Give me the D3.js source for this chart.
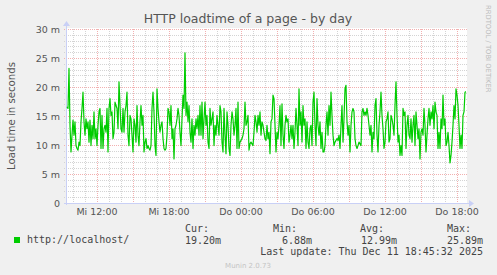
<!DOCTYPE html>
<html><head><meta charset="utf-8">
<script src="https://cdn.jsdelivr.net/npm/d3@7/dist/d3.min.js"></script>
<style>html,body{margin:0;padding:0;background:#F0F0F0;} svg{display:block}</style>
</head><body><svg id="c" width="497" height="275"></svg>
<script>
// ---------- data ----------
const chartTitle = "HTTP loadtime of a page - by day";
const yAxisTitle = "Load time in seconds";
const seriesName = "http://localhost/";
const loadValues = [
16.6,16.3,23.2,13.4,8.8,11.7,14.3,11.7,14.0,9.9,9.4,9.1,10.5,9.9,14.0,16.3,19.1,14.0,11.7,14.5,12.8,14.0,10.5,14.3,9.9,13.4,11.1,15.7,11.1,12.8,9.9,13.4,15.7,16.3,9.4,15.1,9.4,12.8,13.4,12.2,16.3,8.8,16.3,18.0,15.1,15.7,11.1,12.2,17.4,16.8,16.3,12.8,20.9,16.8,12.8,12.2,16.3,12.2,15.7,16.8,19.1,11.7,9.9,15.1,14.5,
11.7,8.8,14.5,13.4,10.5,16.8,11.7,9.9,14.0,16.8,13.4,15.1,8.8,10.5,11.1,9.4,9.9,9.4,9.1,9.9,16.3,19.1,15.7,9.9,8.2,19.7,16.3,14.0,12.2,13.4,14.0,11.1,9.4,9.1,9.4,11.7,16.3,15.7,13.4,16.8,11.1,12.8,7.6,12.8,13.4,14.5,16.3,15.1,12.2,9.9,14.5,18.6,16.3,25.9,15.1,17.4,14.0,16.8,12.2,10.5,14.5,9.4,13.4,11.7,14.5,12.8,15.1,11.7,
16.8,11.7,17.4,11.1,14.5,17.4,13.4,15.1,10.5,9.4,16.3,13.4,14.5,15.7,9.9,13.4,11.7,15.1,13.4,11.7,16.8,15.7,10.5,8.8,16.3,11.7,8.5,15.7,13.4,9.4,8.2,13.4,15.7,14.5,11.7,13.4,16.3,9.4,17.4,9.4,10.5,10.8,11.1,11.7,12.8,17.4,13.4,14.0,15.1,9.1,10.2,10.5,10.2,9.9,12.2,15.1,14.0,12.2,15.1,13.4,15.7,11.7,14.0,13.4,12.2,11.1,10.8,13.4,
11.1,12.2,8.5,14.0,14.5,18.6,18.0,13.4,8.8,12.2,11.1,13.4,16.8,9.9,17.1,11.7,9.4,13.4,15.1,14.0,14.5,10.5,11.7,13.4,11.1,13.4,9.4,12.2,16.3,13.4,9.9,19.7,13.4,15.7,10.5,16.8,13.4,14.5,9.4,14.0,10.5,9.4,12.8,13.4,9.9,17.4,19.1,13.4,9.9,18.0,13.4,11.7,14.0,9.4,12.2,8.8,8.8,9.9,13.4,15.7,11.7,16.8,13.4,19.1,15.1,11.7,9.9,10.5,
10.8,11.1,10.8,11.7,9.4,13.4,16.8,10.5,14.5,19.7,20.3,14.0,11.7,13.4,8.8,13.4,15.7,16.3,15.7,11.1,9.9,9.4,9.9,10.5,10.2,9.9,15.7,16.3,15.1,15.7,15.1,16.3,15.1,13.4,11.7,13.4,8.8,12.2,11.1,16.8,18.0,11.7,8.8,13.4,15.7,19.1,15.1,12.8,9.4,10.5,14.0,14.5,15.7,10.5,11.1,15.1,14.5,13.4,11.7,16.8,20.9,15.1,10.5,11.7,8.2,9.9,8.2,16.3,
15.1,15.7,9.4,13.4,15.1,11.7,11.1,14.5,10.5,13.4,15.1,9.9,15.7,13.4,11.1,12.8,7.6,12.2,12.8,11.7,16.3,13.4,8.8,11.7,14.5,16.3,13.4,15.7,14.5,16.8,12.8,17.4,15.7,15.1,9.4,12.2,9.4,14.5,12.8,18.6,13.4,14.5,9.9,10.5,12.2,9.9,6.9,8.2,10.5,13.4,16.8,14.5,19.7,18.6,16.8,13.4,9.4,11.7,9.4,15.1,15.7,19.1,19.2
];
const lastSample = new Date(2025, 11, 11, 18, 45);
const sampleMinutes = 5;
const spanMinutes = 2000; // 33h20m shown
const xTickLabels = ["Mi 12:00", "Mi 18:00", "Do 00:00", "Do 06:00", "Do 12:00", "Do 18:00"];
const xTickTimes = [new Date(2025,11,10,12), new Date(2025,11,10,18), new Date(2025,11,11,0),
                    new Date(2025,11,11,6), new Date(2025,11,11,12), new Date(2025,11,11,18)];
const yTicks = [0, 5, 10, 15, 20, 25, 30];
const yTickLabels = ["0", "5 m", "10 m", "15 m", "20 m", "25 m", "30 m"];
const statNames = ["Cur:", "Min:", "Avg:", "Max:"];
const statValues = ["19.20m", "6.88m", "12.99m", "25.89m"];
const lastUpdate = "Last update: Thu Dec 11 18:45:32 2025";
const footer = "Munin 2.0.73";
const watermark = "RRDTOOL / TOBI OETIKER";

// ---------- layout ----------
const svg = d3.select("#c");
const L = 66, R = 466, T = 29, B = 203;
const endT = lastSample;
const startT = new Date(endT.getTime() - spanMinutes * 60000);
const x = d3.scaleTime().domain([startT, endT]).range([L, R]);
const y = d3.scaleLinear().domain([0, 30]).range([B, T]);
const sans = "DejaVu Sans, sans-serif", mono = "DejaVu Sans Mono, monospace";
const textCol = "#555";

svg.append("rect").attr("width", 497).attr("height", 275).attr("fill", "#F0F0F0");
svg.append("rect").attr("x", L).attr("y", T - 1).attr("width", R - L + 1).attr("height", B - T + 1).attr("fill", "#fff");

// grid
const g = svg.append("g").attr("shape-rendering", "crispEdges");
const hours = d3.timeHour.range(startT, endT);
hours.forEach(h => {
  const major = h.getHours() % 3 === 0;
  const xx = Math.round(x(h)) + 0.5;
  g.append("line").attr("x1", xx).attr("x2", xx).attr("y1", T).attr("y2", B + 2)
    .attr("stroke", major ? "#f2b0b0" : "#d4d4d4").attr("stroke-dasharray", "1,1");
});
d3.range(1, 31, 1).forEach(v => {
  const major = v % 5 === 0;
  const yy = Math.round(y(v)) + 0.5;
  g.append("line").attr("x1", L - 2).attr("x2", R + 1).attr("y1", yy).attr("y2", yy)
    .attr("stroke", major ? "#f2b0b0" : "#d4d4d4").attr("stroke-dasharray", "1,1");
});

// axes lines + arrows
const axisCol = "#c9d0f6";
g.append("line").attr("x1", L - 2).attr("x2", R + 4).attr("y1", B + 0.5).attr("y2", B + 0.5).attr("stroke", axisCol);
g.append("line").attr("x1", L + 0.5).attr("x2", L + 0.5).attr("y1", B + 2).attr("y2", T - 4).attr("stroke", axisCol);
svg.append("path").attr("d", `M${R + 3},${B - 3} L${R + 8},${B + 0.5} L${R + 3},${B + 4} Z`).attr("fill", axisCol);
svg.append("path").attr("d", `M${L - 3},${T - 3} L${L + 0.5},${T - 8} L${L + 4},${T - 3} Z`).attr("fill", axisCol);

// series line
const line = d3.line()
  .x((d, i) => x(new Date(endT.getTime() - (loadValues.length - 1 - i) * sampleMinutes * 60000)))
  .y(d => y(d));
svg.append("path").datum(loadValues).attr("d", line).attr("fill", "none")
  .attr("stroke", "#00cc00").attr("stroke-width", 1.2).attr("stroke-linejoin", "round");

// y labels
svg.selectAll(".yl").data(yTicks).enter().append("text")
  .attr("x", 60).attr("y", d => y(d) + 3.5).attr("text-anchor", "end")
  .attr("font-family", sans).attr("font-size", 9.5).attr("fill", textCol)
  .text((d, i) => yTickLabels[i]);

// x labels
svg.selectAll(".xl").data(xTickTimes).enter().append("text")
  .attr("x", d => x(d)).attr("y", 215).attr("text-anchor", "middle")
  .attr("font-family", sans).attr("font-size", 9.5).attr("fill", textCol)
  .text((d, i) => xTickLabels[i]);

// title
svg.append("text").attr("x", 248).attr("y", 22.5).attr("text-anchor", "middle")
  .attr("font-family", sans).attr("font-size", 12.5).attr("fill", textCol).text(chartTitle);

// y axis title
svg.append("text").attr("transform", `translate(15,${(T + B) / 2}) rotate(-90)`)
  .attr("text-anchor", "middle").attr("font-family", sans).attr("font-size", 10.2)
  .attr("fill", textCol).text(yAxisTitle);

// watermark
svg.append("text").attr("transform", "translate(486,5) rotate(90)")
  .attr("font-family", sans).attr("font-size", 6.8).attr("fill", "#bbb").text(watermark);

// legend
svg.append("rect").attr("x", 14).attr("y", 237).attr("width", 6).attr("height", 6).attr("fill", "#00cc00");
svg.append("text").attr("x", 27).attr("y", 243).attr("font-family", mono).attr("font-size", 10)
  .attr("fill", "#444").text(seriesName);
const headX = [185, 273, 360, 447];
const valEnd = [221, 312, 397, 483];
statNames.forEach((s, i) => {
  svg.append("text").attr("x", headX[i]).attr("y", 232).attr("font-family", mono).attr("font-size", 10)
    .attr("fill", "#444").text(s);
  svg.append("text").attr("x", valEnd[i]).attr("y", 243.5).attr("text-anchor", "end").attr("font-family", mono)
    .attr("font-size", 10).attr("fill", "#444").text(statValues[i]);
});
svg.append("text").attr("x", 483).attr("y", 254.5).attr("text-anchor", "end").attr("font-family", mono)
  .attr("font-size", 10).attr("fill", "#444").text(lastUpdate);
svg.append("text").attr("x", 248).attr("y", 268).attr("text-anchor", "middle").attr("font-family", sans)
  .attr("font-size", 7).attr("fill", "#c4c4c4").text(footer);
</script></body></html>
